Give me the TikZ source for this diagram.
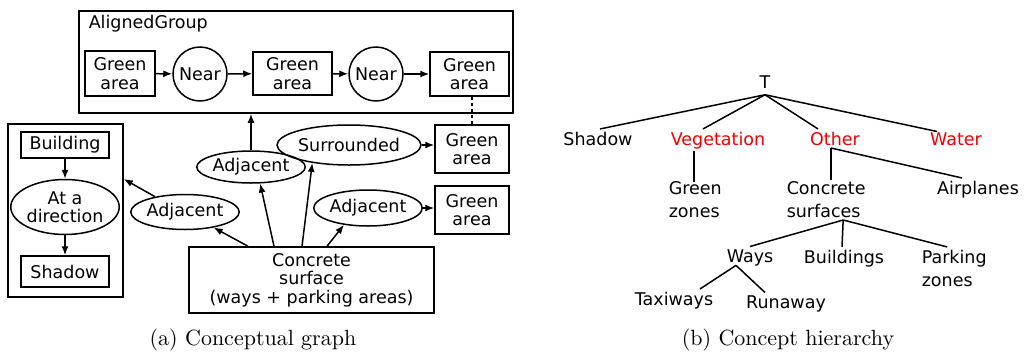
\documentclass[tikz,border=0pt]{standalone}
\usepackage{fontspec}
\setsansfont{DejaVu Sans}
\newfontfamily\capfont[Extension=.otf]{lmroman10-regular}
\usetikzlibrary{shapes.geometric,arrows.meta,calc}

\tikzset{
  every picture/.style={line width=1.5pt},
  lbl/.style={font=\sffamily\fontsize{17.5}{18.5}\selectfont, align=center, inner sep=0pt},
  box/.style={lbl, draw, rectangle},
  oval/.style={lbl, draw, ellipse},
  ring/.style={lbl, draw, circle, minimum size=54pt},
  frame/.style={draw, rectangle, inner sep=0pt},
  arr/.style={-{Latex[length=9pt,width=7pt]}},
  concept/.style={font=\sffamily\fontsize{17.5}{23}\selectfont, inner sep=2pt, anchor=base},
  hot/.style={concept, text={rgb,255:red,240;green,0;blue,0}},
  caption/.style={font=\capfont\fontsize{22}{26}\selectfont, anchor=base, inner sep=0pt},
}

\begin{document}
\begin{tikzpicture}[x=1pt, y=-1pt]
\useasboundingbox (0,0) rectangle (1027,354);

% ---------- (a) conceptual graph ----------
\node[frame, minimum width=434pt, minimum height=102pt] (group) at (296,62) {};
\node[lbl, anchor=west] (grouptitle) at (88,24) {AlignedGroup};

\node[box, minimum width=70pt, minimum height=45pt] (ga1) at (120,73.5) {Green\\area};
\node[ring] (near1) at (200,74) {Near};
\node[box, minimum width=79pt, minimum height=43pt] (ga2) at (292.5,73.5) {Green\\area};
\node[ring] (near2) at (376,74) {Near};
\node[box, minimum width=79pt, minimum height=44pt] (ga3) at (469.5,74) {Green\\area};

\draw[arr] (ga1) -- (near1);
\draw[arr] (near1) -- (ga2);
\draw[arr] (ga2) -- (near2);
\draw[arr] (near2) -- (ga3);

\node[box, minimum width=74pt, minimum height=48pt] (ga4) at (472,149) {Green\\area};
\node[box, minimum width=74pt, minimum height=48pt] (ga5) at (472,210) {Green\\area};
\draw[dashed, line width=1.2pt] (ga4.north |- ga3.south) -- (ga4.north);

\node[frame, minimum width=115pt, minimum height=173pt] (side) at (65.5,210.5) {};
\node[box, minimum width=88pt, minimum height=26pt] (building) at (65,145) {Building};
\node[oval, minimum width=105pt, minimum height=55pt] (direction) at (65,207) {At a\\direction};
\node[box, minimum width=88pt, minimum height=31pt] (shadow) at (65,271.5) {Shadow};
\draw[arr] (building) -- (direction);
\draw[arr] (direction) -- (shadow);

\node[box, minimum width=245pt, minimum height=66pt] (concrete) at (311.5,280)
  {Concrete\\surface\\(ways + parking areas)};

\node[oval, minimum width=96pt, minimum height=35pt] (adjL) at (185,212) {Adjacent};
\node[oval, minimum width=94pt, minimum height=32pt] (adjM) at (251,167) {Adjacent};
\node[oval, minimum width=118pt, minimum height=40pt] (surr) at (349,145) {Surrounded};
\node[oval, minimum width=98pt, minimum height=36pt] (adjR) at (368,208) {Adjacent};

\draw[arr] ([xshift=-63.5pt]concrete.north) -- (adjL);
\draw[arr] ([xshift=-37.5pt]concrete.north) -- (adjM.-61);
\draw[arr] ([xshift=-9.5pt]concrete.north) -- (surr.206);
\draw[arr] ([xshift=15.5pt]concrete.north) -- (adjR.215);

\draw[arr] (adjL.153) -- ([yshift=31.5pt]side.east);
\draw[arr] (adjM.north) -- (adjM.north |- group.south);
\draw[arr] (surr.east) -- (surr.east -| ga4.west);
\draw[arr] (adjR.east) -- (adjR.east -| ga5.west);

\node[caption] (capa) at (253,345) {(a)\ Conceptual graph};

% ---------- (b) concept hierarchy ----------
\node[concept] (top) at (765,88) {T};
\node[concept] (cshadow) at (598,145) {Shadow};
\node[hot] (veg) at (718,145) {Vegetation};
\node[hot] (other) at (835,145) {Other};
\node[hot] (water) at (956,145) {Water};
\node[concept, anchor=base west, align=left] (greenz) at (666,217) {Green\\zones};
\node[concept, anchor=base west, align=left] (csurf) at (784,217) {Concrete\\surfaces};
\node[concept] (planes) at (978,194) {Airplanes};
\node[concept] (ways) at (750,262) {Ways};
\node[concept] (bldg) at (844,263) {Buildings};
\node[concept, anchor=base west, align=left] (parking) at (919,286) {Parking\\zones};
\node[concept] (taxi) at (674,305) {Taxiways};
\node[concept] (runway) at (786,308) {Runaway};

\coordinate (topfoot) at ([yshift=-4pt]top.south);
\draw (topfoot) -- ([xshift=2pt]cshadow.north);
\draw (topfoot) -- ([xshift=-15pt]veg.north);
\draw (topfoot) -- ([xshift=-17pt]other.north);
\draw (topfoot) -- ([xshift=-19pt,yshift=-2pt]water.north);
\draw ([xshift=-24pt]veg.south) -- ([xshift=-24pt,yshift=-4pt]veg.south |- greenz.north);
\draw ([xshift=-4pt]other.south) -- ([xshift=-4pt,yshift=-2pt]other.south |- csurf.north);
\draw ([xshift=-4pt]other.south) -- ([xshift=-16pt]planes.north);
\draw ([xshift=17pt]csurf.south) -- (ways.north);
\draw ([xshift=17pt]csurf.south) -- ([xshift=-2pt]bldg.north);
\draw ([xshift=17pt]csurf.south) -- ([xshift=-7pt]parking.north);
\draw ([xshift=-14pt,yshift=3pt]ways.south) -- ([xshift=26pt]taxi.north);
\draw ([xshift=-14pt,yshift=3pt]ways.south) -- ([xshift=-21pt]runway.north);

\node[caption] (capb) at (788,345) {(b)\ Concept hierarchy};
\end{tikzpicture}
\end{document}
